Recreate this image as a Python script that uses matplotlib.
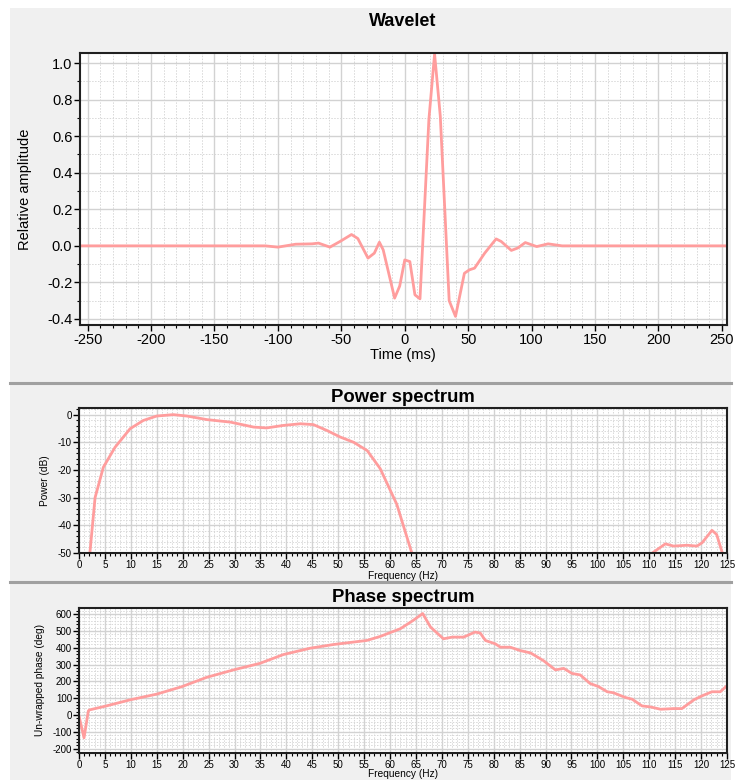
import matplotlib
matplotlib.use("Agg")
import matplotlib.pyplot as plt
from matplotlib.ticker import MultipleLocator, FormatStrFormatter
from matplotlib.patches import Rectangle
from matplotlib.lines import Line2D

plt.rcParams['font.family'] = ['Liberation Sans', 'DejaVu Sans']
plt.rcParams['axes.unicode_minus'] = False

# wavelet (time in ms, relative amplitude)
wavelet_t = [-256, -110, -100, -86, -73, -68, -59, -51, -42, -37, -29, -24, -20,
             -17, -8, -4, 0, 4, 8, 12, 19, 23.5, 28, 35, 40, 47, 51, 55, 63,
             72, 76, 84, 89, 95, 104, 113, 124, 256]
wavelet_amp = [0.0, 0.0, -0.007, 0.009, 0.011, 0.015, -0.007, 0.024, 0.062, 0.04,
               -0.067, -0.04, 0.02, -0.022, -0.286, -0.22, -0.077, -0.086, -0.268,
               -0.29, 0.69, 1.05, 0.71, -0.30, -0.386, -0.15, -0.131, -0.122,
               -0.04, 0.038, 0.024, -0.025, -0.012, 0.018, -0.004, 0.011, 0.0, 0.0]

# power spectrum, main band and high band (Hz, dB)
power_f_low = [2.1, 3.1, 4.7, 6.95, 9.85, 12.4, 15.0, 18.2, 20.8, 24.7, 29.2,
               33.7, 36.2, 39.4, 42.7, 45.2, 47.8, 50.4, 53.0, 55.6, 58.1, 61.3,
               64.2]
power_db_low = [-50, -30, -19, -11.8, -5.1, -2.1, -0.5, 0.0, -0.5, -1.8, -2.7,
                -4.5, -4.8, -3.9, -3.3, -3.6, -5.7, -8.1, -10, -13, -19.5, -32.4,
                -50]
power_f_high = [110.6, 113.1, 114.7, 117.3, 119.2, 120.2, 122.1, 123.0, 124.1]
power_db_high = [-50, -46.7, -47.5, -47.2, -47.5, -46.3, -41.8, -43.3, -50]

# phase spectrum (Hz, deg)
phase_f = [0.0, 0.97, 1.8, 2.0, 5.3, 9.85, 15.0, 19.8, 24.65, 29.8, 34.9, 39.4,
           44.6, 49.1, 55.5, 58.1, 62.0, 64.5, 66.3, 67.8, 70.3, 72.0, 74.2,
           76.4, 77.4, 78.4, 80.3, 81.3, 83.2, 85.1, 87.1, 89.6, 91.9, 93.5,
           95.1, 96.7, 98.6, 100.2, 101.9, 103.1, 105.4, 106.7, 108.6, 110.2,
           112.2, 114.7, 116.3, 118.6, 120.2, 122.1, 123.7, 125.0]
phase_deg = [-6, -136, 24, 30, 54, 90, 124, 168, 224, 268, 307, 359, 397, 419,
             443, 467, 513, 563, 603, 523, 453, 463, 463, 493, 487, 443, 423,
             403, 403, 383, 369, 323, 268, 277, 247, 238, 187, 169, 138, 132,
             104, 94, 54, 48, 34, 38, 38, 90, 114, 138, 138, 174]

LINE = '#ff9d9d'
W, H = 739, 780

fig = plt.figure(figsize=(W / 100, H / 100), dpi=100, facecolor='white')

# panel background and separators
fig.patches.append(Rectangle((10 / W, 0), 721 / W, 1 - 8 / H,
                             transform=fig.transFigure, facecolor='#f0f0f0',
                             edgecolor='none', zorder=-10))
for ys in (383, 582):
    fig.lines.append(Line2D([10 / W, 731 / W], [1 - ys / H, 1 - ys / H],
                            transform=fig.transFigure, color='#a0a0a0', lw=2.2))


def box(l, t, r, b):
    return [l / W, 1 - b / H, (r - l) / W, (b - t) / H]


def style(ax, fs, xmaj, xmin, ymaj, ymin, pad=1.5):
    ax.set_facecolor('white')
    ax.xaxis.set_major_locator(MultipleLocator(xmaj))
    ax.xaxis.set_minor_locator(MultipleLocator(xmin))
    ax.yaxis.set_major_locator(MultipleLocator(ymaj))
    ax.yaxis.set_minor_locator(MultipleLocator(ymin))
    ax.grid(which='major', color='#d2d2d2', lw=1.0, ls='-')
    ax.grid(which='minor', color='#d8d8d8', lw=0.7, ls=(0, (1.5, 1.5)))
    ax.set_axisbelow(True)
    ax.tick_params(which='major', direction='out', length=4, width=1,
                   labelsize=fs, pad=pad, colors='black')
    ax.tick_params(which='minor', direction='out', length=2.5, width=0.8)
    for s in ax.spines.values():
        s.set_color('#202020')
        s.set_linewidth(1.5)


# Wavelet
ax1 = fig.add_axes(box(80, 53, 727, 325))
ax1.plot(wavelet_t, wavelet_amp, color=LINE, lw=2.0, solid_joinstyle='round')
ax1.set_xlim(-256, 254)
ax1.set_ylim(-0.433, 1.055)
style(ax1, 10.5, 50, 10, 0.2, 0.1)
ax1.yaxis.set_major_formatter(FormatStrFormatter('%.1f'))
fig.text(403 / W, 1 - 22 / H, 'Wavelet', ha='center', va='center',
         fontsize=13, fontweight='bold')
fig.text(403 / W, 1 - 355 / H, 'Time (ms)', ha='center', va='center',
         fontsize=10.5)
fig.text(25 / W, 1 - 189 / H, 'Relative amplitude', ha='center', va='center',
         rotation=90, fontsize=10.5)

# Power spectrum
ax2 = fig.add_axes(box(79, 408, 727, 553))
ax2.plot(power_f_low, power_db_low, color=LINE, lw=2.0)
ax2.plot(power_f_high, power_db_high, color=LINE, lw=2.0)
ax2.set_xlim(0, 125)
ax2.set_ylim(-50, 2.4)
style(ax2, 7, 5, 1, 10, 2, pad=1)
fig.text(403 / W, 1 - 398 / H, 'Power spectrum', ha='center', va='center',
         fontsize=13.3, fontweight='bold')
fig.text(403 / W, 1 - 576 / H, 'Frequency (Hz)', ha='center', va='center',
         fontsize=7.3)
fig.text(45 / W, 1 - 481 / H, 'Power (dB)', ha='center', va='center',
         rotation=90, fontsize=7.3)

# Phase spectrum
ax3 = fig.add_axes(box(79, 608, 727, 753))
ax3.plot(phase_f, phase_deg, color=LINE, lw=2.0)
ax3.set_xlim(0, 125)
ax3.set_ylim(-226, 636)
style(ax3, 7, 5, 1, 100, 20, pad=1)
fig.text(403 / W, 1 - 598 / H, 'Phase spectrum', ha='center', va='center',
         fontsize=13.3, fontweight='bold')
fig.text(403 / W, 1 - 774 / H, 'Frequency (Hz)', ha='center', va='center',
         fontsize=7.3)
fig.text(40 / W, 1 - 680 / H, 'Un-wrapped phase (deg)', ha='center', va='center',
         rotation=90, fontsize=7.3)

fig.savefig('out.png', dpi=100, facecolor='white')
